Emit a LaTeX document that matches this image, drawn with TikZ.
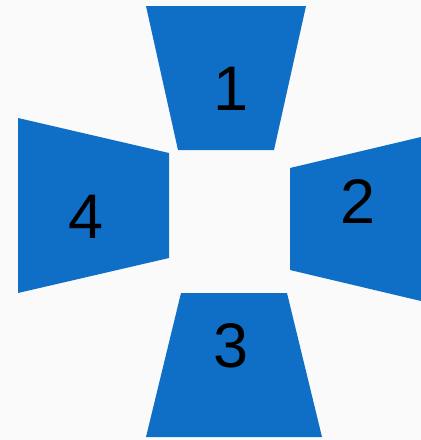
\documentclass[tikz,border=0pt]{standalone}
\usepackage{fontspec}
\setmainfont{Liberation Sans}
\definecolor{tileblue}{RGB}{15,111,198}

\begin{document}
\begin{tikzpicture}[x=1pt,y=-1pt,line join=miter]
        \useasboundingbox (0,0) rectangle (421,440);
        \fill[white!98!black] (0,0) rectangle (421,440);

        % Cuatro trapecios
        \fill[tileblue] (146,6) -- (306,6) -- (274,150) -- (178,150) -- cycle;
        \fill[tileblue] (290,168) -- (421,137) -- (421,301) -- (290,270) -- cycle;
        \fill[tileblue] (181,293) -- (287,293) -- (322,437) -- (146,437) -- cycle;
        \fill[tileblue] (18,118) -- (169,153) -- (169,258) -- (18,293) -- cycle;

        % Etiquetas
        \tikzset{tilelabel/.style={inner sep=0pt,font=\fontsize{63}{63}\selectfont}}
        \node[tilelabel] (t1) at (231,89) {1};
        \node[tilelabel] (t2) at (358,202) {2};
        \node[tilelabel] (t3) at (231,346) {3};
        \node[tilelabel] (t4) at (86,217) {4};
    \end{tikzpicture}
\end{document}
